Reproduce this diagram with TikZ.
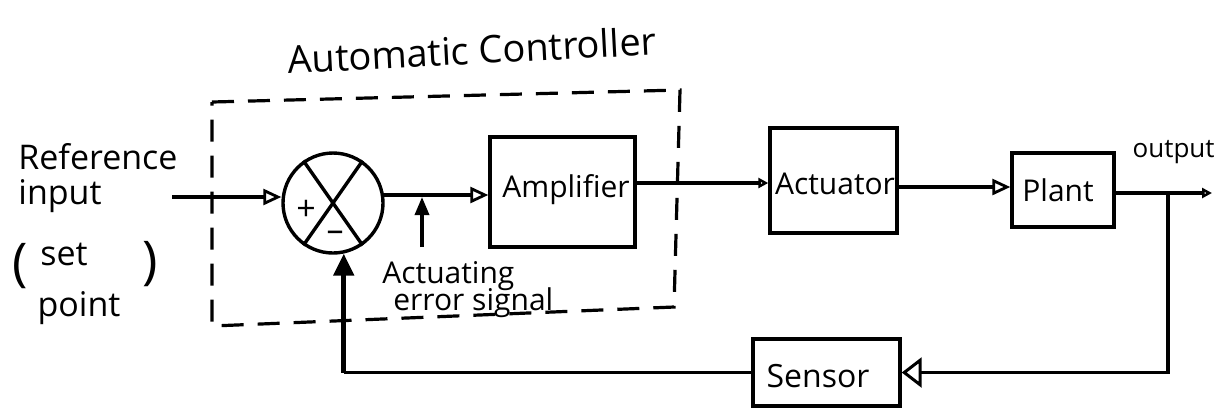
\documentclass[tikz,border=0pt]{standalone}
\usepackage{fontspec}
\setmainfont{Open Sans}
\usetikzlibrary{arrows.meta}
\begin{document}
\begin{tikzpicture}[x=0.5pt,y=-0.5pt,
  ln/.style={line width=1.7pt},
  blk/.style={draw,line width=1.7pt,rectangle,inner sep=0pt},
  oarr/.style={ln,-{Triangle[open,width=8pt,length=9pt,line width=1.4pt]}},
  sarr/.style={ln,-{Triangle[open,width=5pt,length=5pt,line width=1.4pt]}},
  barr/.style={ln,-{Triangle[open,width=15pt,length=10pt,line width=1.5pt]}},
  farr/.style={line width=2.4pt,-{Triangle[width=10pt,length=11pt]}},
  tarr/.style={ln,-{Triangle[width=7pt,length=9pt]}},
  lbl/.style={inner sep=0pt,font=\fontsize{15}{17.5}\selectfont},
  dbox/.style={line width=1.6pt,dash pattern=on 11pt off 7pt}]
\useasboundingbox (0,0) rectangle (1218,409);
% dashed controller boundary
\draw[dbox] (212,102) -- (680,90) -- (674,307) -- (212,326) -- cycle;
% blocks
\node[draw,circle,line width=1.7pt,minimum size=50pt,inner sep=0pt] (sum) at (333,203) {};
\draw[ln] (sum.125) -- (sum.-55);
\draw[ln] (sum.55) -- (sum.-125);
\node[lbl,font=\fontsize{17}{17}\selectfont] (plus) at (306,210) {+};
\node[lbl,font=\fontsize{17}{17}\selectfont] (minus) at (335,236) {--};
\node[blk,minimum width=72.5pt,minimum height=55pt] (amp) at (562.5,192) {};
\node[lbl] (amptxt) at (566,190) {Amplifier};
\node[blk,minimum width=63.5pt,minimum height=52.5pt] (act) at (833.5,180.5) {};
\node[lbl] (acttxt) at (835,184) {Actuator};
\node[blk,minimum width=51pt,minimum height=37pt] (plant) at (1063,190) {};
\node[lbl] (planttxt) at (1058,190) {Plant};
\node[blk,minimum width=73.5pt,minimum height=33.5pt] (sensor) at (826.5,372.5) {};
\node[lbl,font=\fontsize{16}{16}\selectfont] (sensortxt) at (818,376) {Sensor};
% coordinates
\coordinate (in) at (172,197);
\coordinate (a1) at (383,195);
\coordinate (ae) at (422,247);
\coordinate (b1) at (635,183);
\coordinate (c1) at (897,187);
\coordinate (d1) at (1114,193);
\coordinate (j) at (1168,193);
\coordinate (out) at (1212,193);
% connectors
\draw[oarr] (in) -- (in -| sum.west);
\draw[oarr] (a1) -- (a1 -| amp.west);
\draw[tarr,shorten >=1pt] (ae) -- (ae |- a1);
\draw[sarr] (b1) -- (b1 -| act.west);
\draw[oarr] (c1) -- (c1 -| plant.west);
\draw[sarr] (d1) -- (out);
\draw[barr] (j) |- (sensor.east);
\coordinate (k) at (sensor.west -| sum.-78);
\draw[ln] (sensor.west) -- (k);
\draw[farr] (k) -- (sum.-78);
% labels
\node[lbl,rotate=3,font=\fontsize{19}{19}\selectfont] (title) at (472,50) {Automatic Controller};
\node[lbl,anchor=west,align=left,font=\fontsize{17}{17.5}\selectfont] (ref) at (18,178) {Reference\\input};
\node[lbl,font=\fontsize{26}{26}\selectfont] (lp) at (20,266) {(};
\node[lbl,font=\fontsize{17}{17}\selectfont] (set) at (64,254) {set};
\node[lbl,font=\fontsize{17}{17}\selectfont] (point) at (79,308) {point};
\node[lbl,font=\fontsize{26}{26}\selectfont] (rp) at (150,264) {)};
\node[lbl,anchor=west] (aes1) at (382,276) {Actuating};
\node[lbl,anchor=west] (aes2) at (393,303) {error signal};
\node[lbl,anchor=east,font=\fontsize{13}{13}\selectfont] (outtxt) at (1215,152) {output};
\end{tikzpicture}
\end{document}
